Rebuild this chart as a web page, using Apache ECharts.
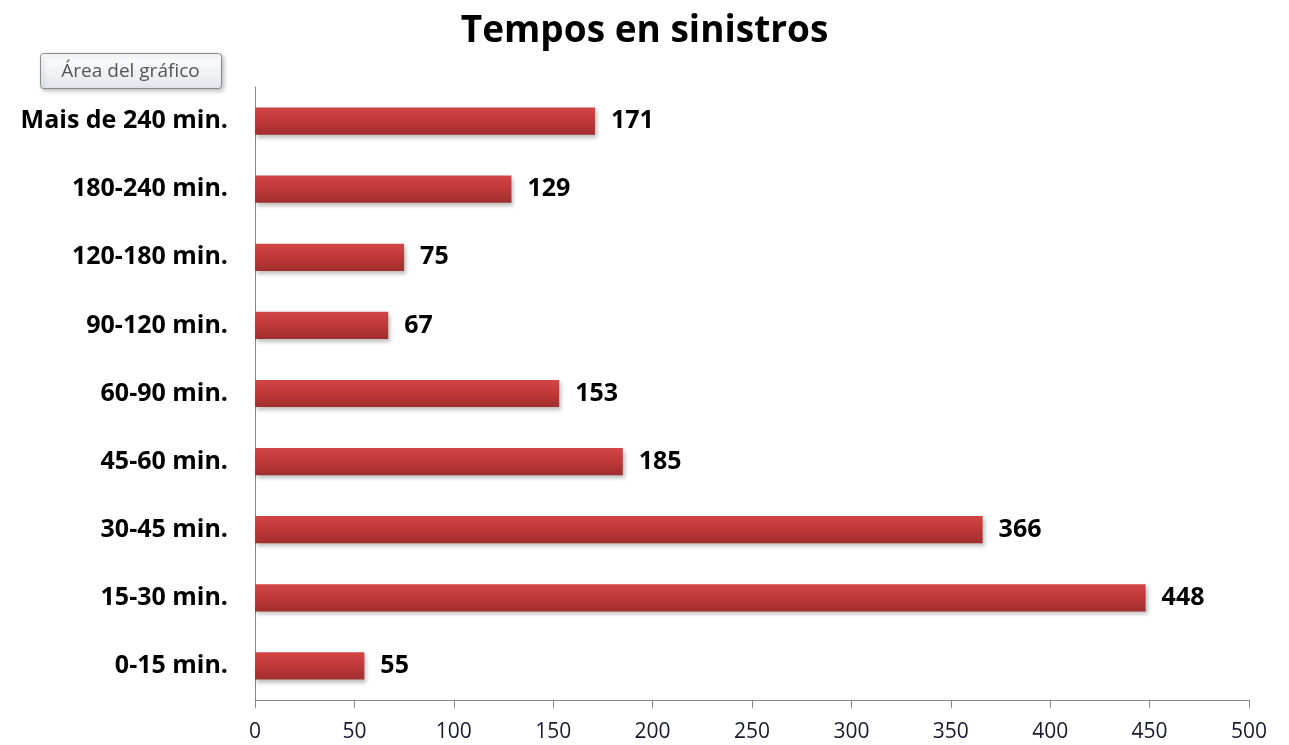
<!DOCTYPE html>
<html>
<head>
<meta charset="utf-8">
<script src="https://cdn.jsdelivr.net/npm/echarts@6/dist/echarts.min.js"></script>
<style>html,body{margin:0;padding:0;background:#fff;}#c{width:1289px;height:745px;}</style>
</head>
<body>
<div id="c"></div>
<script>
const categories = ['0-15 min.', '15-30 min.', '30-45 min.', '45-60 min.', '60-90 min.', '90-120 min.', '120-180 min.', '180-240 min.', 'Mais de 240 min.'];
const values = [55, 448, 366, 185, 153, 67, 75, 129, 171];
const xTicks = [0, 50, 100, 150, 200, 250, 300, 350, 400, 450, 500];

const chart = echarts.init(document.getElementById('c'));
const font = '"Open Sans", Lato, "Noto Sans", sans-serif';
chart.setOption({
  backgroundColor: '#fff',
  title: {
    text: 'Tempos en sinistros',
    left: 'center',
    top: 8,
    textStyle: {fontFamily: font, fontWeight: 'bold', fontSize: 37, color: '#000'}
  },
  graphic: [{
    type: 'group', left: 40, top: 53,
    children: [
      {type: 'rect', shape: {x: 0, y: 0, width: 181, height: 35, r: 3},
       style: {fill: new echarts.graphic.LinearGradient(0,0,0,1,[{offset:0,color:'#ffffff'},{offset:1,color:'#e4e6ee'}]),
               stroke: '#8a8a8a', lineWidth: 1, shadowBlur: 4, shadowOffsetX: 2, shadowOffsetY: 2, shadowColor: 'rgba(0,0,0,0.25)'}},
      {type: 'text', x: 90, y: 18, style: {text: 'Área del gráfico', fill: '#555', font: '19px ' + font, align: 'center', verticalAlign: 'middle'}}
    ]
  }],
  grid: {left: 255, right: 40, top: 87, bottom: 45, containLabel: false},
  xAxis: {
    type: 'value', min: 0, max: 500, interval: 50,
    axisLine: {show: true, lineStyle: {color: '#888', width: 1}},
    axisTick: {show: true, length: 8, lineStyle: {color: '#888'}},
    splitLine: {show: false},
    axisLabel: {fontFamily: font, fontSize: 21, color: '#1a1a2e', margin: 22,
      formatter: v => xTicks.includes(v) ? String(v) : ''}
  },
  yAxis: {
    type: 'category', data: categories,
    axisLine: {show: true, lineStyle: {color: '#888', width: 1}},
    axisTick: {show: false},
    axisLabel: {fontFamily: font, fontSize: 25, fontWeight: 'bold', color: '#000', margin: 27}
  },
  series: [{
    type: 'bar', data: values, barWidth: '40%',
    itemStyle: {
      color: new echarts.graphic.LinearGradient(0,0,0,1,[{offset:0,color:'#d24545'},{offset:0.5,color:'#c03838'},{offset:1,color:'#a02e2e'}]),
      shadowBlur: 4, shadowOffsetX: 2, shadowOffsetY: 3, shadowColor: 'rgba(0,0,0,0.25)'
    },
    label: {show: true, position: 'right', distance: 16, fontFamily: font, fontSize: 25, fontWeight: 'bold', color: '#000'},
    animation: false
  }],
  animation: false
});
</script>
</body>
</html>
